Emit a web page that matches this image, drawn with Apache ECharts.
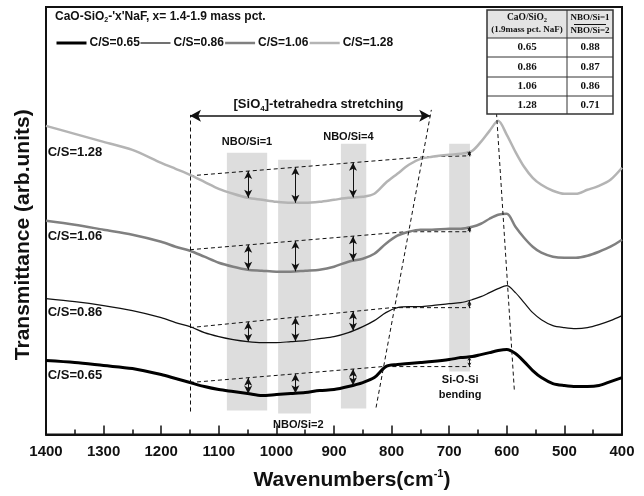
<!DOCTYPE html>
<html>
<head>
<meta charset="utf-8">
<script src="https://cdn.jsdelivr.net/npm/echarts@6/dist/echarts.min.js"></script>
<style>
  html, body { margin: 0; padding: 0; background: #fff; }
  #chart { width: 644px; height: 496px; }
</style>
</head>
<body>
<div id="chart"></div>
<script>
// FTIR spectra of CaO-SiO2-NaF slags (transmittance, arbitrary units, curves offset)
const wavenumbers = [1400,1350,1300,1250,1200,1175,1150,1125,1100,1075,1050,1025,1000,975,950,925,900,875,850,830,810,790,770,750,730,700,680,660,645,630,615,600,585,570,555,540,520,500,480,460,440,420,400];

const cs065 = [74,72,69,66,60,56,52,48,45,43,41,39,40,41,42,44,45,48,52,57,68,70,71,72,73,75,77,78,80,82,84,85,81,73,64,57,51,49,48,48,49,53,57];
const cs086 = [136,133,129,124,117,112,108,102,98,95,93,92,92,93,94,96,98,102,108,114,122,127,128,128,129,131,132,135,138,142,146,149,142,132,122,115,109,107,106,107,110,114,119];
const cs106 = [214,210,205,200,193,188,184,178,172,168,165,164,163,163,164,165,168,173,176,181,191,199,203,205,205,206,206,208,211,216,220,221,208,197,188,182,178,177,177,179,183,188,195];
const cs128 = [309,301,293,285,272,266,260,253,246,241,237,235,233,232,232,233,235,237,238,241,252,261,270,276,278,280,281,284,293,304,314,300,283,268,257,250,244,241,241,245,249,255,267];

const seriesNames = ['C/S=0.65', 'C/S=0.86', 'C/S=1.06', 'C/S=1.28'];

// Dashed baselines drawn under the stretching envelope of each spectrum
const base065 = [[1150, 52], [815, 68], [663, 68]];
const base086 = [[1150, 107], [800, 127], [663, 127]];
const base106 = [[1150, 185], [775, 203], [663, 203]];
const base128 = [[1150, 259], [742, 278], [663, 279]];

// Table of NBO/Si ratios
const tableRatio = ['0.65', '0.86', '1.06', '1.28'];
const tableNbo = ['0.88', '0.87', '0.86', '0.71'];

// Band positions (cm-1) where depths are marked
const arrowWn = [1049, 967, 867];
const bendWn = 665;

const FONT = '"Liberation Sans", Arial, sans-serif';
const SERIF = '"Liberation Serif", "Times New Roman", serif';

const curves = [cs065, cs086, cs106, cs128];
const bases = [base065, base086, base106, base128];
const colors = ['#000000', '#111111', '#808080', '#b4b4b4'];
const widths = [3, 1.2, 2.5, 2.5];

function pairs(vals) { return wavenumbers.map((w, i) => [w, vals[i]]); }

function interp(pts, wn) {
  for (let i = 0; i < pts.length - 1; i++) {
    const a = pts[i], b = pts[i + 1];
    if (wn <= a[0] && wn >= b[0]) {
      const t = (a[0] - wn) / (a[0] - b[0]);
      return a[1] + t * (b[1] - a[1]);
    }
  }
  return pts[pts.length - 1][1];
}

const dash = { type: [4, 3], color: '#111', width: 1 };

// Double-headed arrows between baseline and spectrum
const arrowLines = [];
const bendLines = [];
curves.forEach((c, k) => {
  const p = pairs(c);
  arrowWn.forEach((w) => {
    arrowLines.push([{ coord: [w, interp(bases[k], w)] }, { coord: [w, interp(p, w)] }]);
  });
  bendLines.push([{ coord: [bendWn, interp(bases[k], bendWn)] }, { coord: [bendWn, interp(p, bendWn)] }]);
});

const series = [];

// shaded absorption bands
series.push({
  type: 'line', data: [], z: 1, silent: true,
  markArea: {
    silent: true,
    itemStyle: { color: '#dddddd' },
    data: [
      [{ coord: [1086, 24] }, { coord: [1016, 282] }],
      [{ coord: [997, 21] }, { coord: [940, 275] }],
      [{ coord: [888, 26] }, { coord: [844, 291] }],
      [{ coord: [700, 63] }, { coord: [664, 291] }]
    ]
  }
});

// dashed baselines
bases.forEach((b) => {
  series.push({
    type: 'line', data: b, z: 2, silent: true, symbol: 'none',
    lineStyle: dash
  });
});

// spectra
curves.forEach((c, k) => {
  series.push({
    name: seriesNames[k], type: 'line', data: pairs(c), z: 3,
    smooth: 0.3, symbol: 'none', showSymbol: false,
    lineStyle: { color: colors[k], width: widths[k] },
    itemStyle: { color: colors[k] }
  });
});

// guide lines and arrows
function marks(data, symbol, size, lineStyle, z) {
  return {
    type: 'line', data: [], z: z, silent: true,
    markLine: {
      silent: true, animation: false, label: { show: false },
      symbol: symbol, symbolSize: size, lineStyle: lineStyle, data: data
    }
  };
}
series.push(marks([
  [{ coord: [1150, 23] }, { coord: [1150, 320] }],
  [{ coord: [827, 27] }, { coord: [731, 325] }],
  [{ coord: [587, 45] }, { coord: [618, 323] }]
], ['none', 'none'], 0, dash, 4));
series.push(marks(arrowLines, ['arrow', 'arrow'], [6, 8], { type: 'solid', color: '#111', width: 1 }, 5));
series.push(marks(bendLines, ['arrow', 'arrow'], [3, 4], { type: 'solid', color: '#111', width: 1 }, 5));
series.push(marks([[{ coord: [1150, 319] }, { coord: [733, 319] }]], ['arrow', 'arrow'], [9, 11],
  { type: 'solid', color: '#111', width: 1.5 }, 5));

const chart = echarts.init(document.getElementById('chart'), null, { renderer: 'canvas' });

chart.setOption({
  animation: false,
  backgroundColor: '#fff',
  grid: { left: 46, right: 22, top: 7, bottom: 61, show: true, borderColor: '#111', borderWidth: 2 },
  legend: {
    data: seriesNames.map((n, k) => ({
      name: n,
      itemStyle: { opacity: 0 },
      lineStyle: { width: widths[k], color: colors[k] }
    })),
    left: 55, top: 37, padding: 0,
    itemWidth: 30, itemHeight: 10, itemGap: 0,
    textStyle: { fontFamily: FONT, fontWeight: 'bold', fontSize: 12, color: '#111', padding: [0, 0, 0, -2] }
  },
  xAxis: {
    type: 'value', min: 400, max: 1400, interval: 100, inverse: true,
    axisLine: { show: true, lineStyle: { color: '#111', width: 2 } },
    axisTick: { show: true, inside: true, length: 9, lineStyle: { color: '#111', width: 1.5 } },
    minorTick: { show: true, splitNumber: 2, length: 5, lineStyle: { color: '#111', width: 1.5 } },
    splitLine: { show: false },
    axisLabel: {
      fontFamily: FONT, fontWeight: 'bold', fontSize: 15, color: '#111', margin: 10,
      formatter: (v) => String(v)
    },
    name: '{a|Wavenumbers(cm}{s|-1}{a|)}',
    nameLocation: 'middle', nameGap: 34,
    nameTextStyle: {
      padding: [0, 0, 0, 36],
      rich: {
        a: { fontFamily: FONT, fontWeight: 'bold', fontSize: 21, color: '#111', lineHeight: 24 },
        s: { fontFamily: FONT, fontWeight: 'bold', fontSize: 11, color: '#111', lineHeight: 11, verticalAlign: 'top' }
      }
    }
  },
  yAxis: {
    type: 'value', min: 0, max: 428,
    axisLine: { show: false }, axisTick: { show: false },
    axisLabel: { show: false }, splitLine: { show: false },
    name: 'Transmittance (arb.units)',
    nameLocation: 'middle', nameGap: 12,
    nameTextStyle: { fontFamily: FONT, fontWeight: 'bold', fontSize: 21, color: '#111', padding: [0, 28, 0, 0] }
  },
  series: series
});

// Text annotations placed in data coordinates
function px(wn, v) { return chart.convertToPixel({ gridIndex: 0 }, [wn, v]); }
const g = [];
function label(wn, v, text, opts) {
  const p = px(wn, v);
  g.push({
    type: 'text', x: p[0], y: p[1], z: 20, silent: true,
    style: Object.assign({
      text: text, fill: '#111', fontFamily: FONT, fontWeight: 'bold', fontSize: 11,
      align: 'center', verticalAlign: 'middle'
    }, opts || {})
  });
}
label(1051, 293, 'NBO/Si=1');
label(875, 298, 'NBO/Si=4');
label(962, 10, 'NBO/Si=2');
label(681, 55, 'Si-O-Si');
label(681, 40, 'bending');
const curveLabelY = [59, 122, 198, 282];
seriesNames.forEach((n, k) => label(1397, curveLabelY[k], n, { align: 'left', fontSize: 13 }));

const pt = px(927, 330);
g.push({
  type: 'text', x: pt[0], y: pt[1], z: 20, silent: true,
  style: {
    text: '{a|[SiO}{s|4}{a|]-tetrahedra stretching}',
    align: 'center', verticalAlign: 'middle',
    rich: {
      a: { fontFamily: FONT, fontWeight: 'bold', fontSize: 13, fill: '#111', lineHeight: 16 },
      s: { fontFamily: FONT, fontWeight: 'bold', fontSize: 8, fill: '#111', lineHeight: 8, verticalAlign: 'bottom' }
    }
  }
});

// composition heading above the legend
g.push({
  type: 'text', x: 55, y: 17, z: 20, silent: true,
  style: {
    text: "{a|CaO-SiO}{s|2}{a|-'x'NaF, x= 1.4-1.9 mass pct.}",
    align: 'left', verticalAlign: 'middle',
    rich: {
      a: { fontFamily: FONT, fontWeight: 'bold', fontSize: 12, fill: '#111', lineHeight: 14 },
      s: { fontFamily: FONT, fontWeight: 'bold', fontSize: 7, fill: '#111', lineHeight: 7, verticalAlign: 'bottom' }
    }
  }
});

// NBO/Si table
const tx = [487, 567, 613];
const ty = [10, 38, 57, 77, 96, 114];
g.push({ type: 'rect', z: 20, silent: true, shape: { x: tx[0], y: ty[0], width: tx[2] - tx[0], height: ty[1] - ty[0] }, style: { fill: '#e4e4e4' } });
g.push({ type: 'rect', z: 20, silent: true, shape: { x: tx[0], y: ty[1], width: tx[2] - tx[0], height: ty[5] - ty[1] }, style: { fill: '#ffffff' } });
for (let i = 1; i < ty.length - 1; i++) {
  g.push({ type: 'line', z: 21, silent: true, shape: { x1: tx[0], y1: ty[i], x2: tx[2], y2: ty[i] }, style: { stroke: '#333', lineWidth: 1 } });
}
g.push({ type: 'line', z: 21, silent: true, shape: { x1: tx[1], y1: ty[0], x2: tx[1], y2: ty[5] }, style: { stroke: '#333', lineWidth: 1 } });
g.push({ type: 'rect', z: 22, silent: true, shape: { x: tx[0], y: ty[0], width: tx[2] - tx[0], height: ty[5] - ty[0] }, style: { fill: 'none', stroke: '#333', lineWidth: 1.5 } });

const cx1 = (tx[0] + tx[1]) / 2, cx2 = (tx[1] + tx[2]) / 2;
function tText(x, y, text, size) {
  g.push({
    type: 'text', x: x, y: y, z: 23, silent: true,
    style: { text: text, fill: '#111', fontFamily: SERIF, fontWeight: 'bold', fontSize: size, align: 'center', verticalAlign: 'middle' }
  });
}
g.push({
  type: 'text', x: cx1, y: 18, z: 23, silent: true,
  style: {
    text: '{a|CaO/SiO}{s|2}', align: 'center', verticalAlign: 'middle',
    rich: {
      a: { fontFamily: SERIF, fontWeight: 'bold', fontSize: 9.5, fill: '#111', lineHeight: 12 },
      s: { fontFamily: SERIF, fontWeight: 'bold', fontSize: 6.5, fill: '#111', lineHeight: 7, verticalAlign: 'bottom' }
    }
  }
});
tText(cx1, 30, '(1.9mass pct. NaF)', 9);
tText(cx2, 18, 'NBO/Si=1', 9);
g.push({ type: 'line', z: 23, silent: true, shape: { x1: cx2 - 16, y1: 24.5, x2: cx2 + 16, y2: 24.5 }, style: { stroke: '#111', lineWidth: 1 } });
tText(cx2, 31, 'NBO/Si=2', 9);
tableRatio.forEach((r, i) => {
  const yc = (ty[i + 1] + ty[i + 2]) / 2;
  tText(cx1, yc, r, 11);
  tText(cx2, yc, tableNbo[i], 11);
});

chart.setOption({ graphic: g });
</script>
</body>
</html>
